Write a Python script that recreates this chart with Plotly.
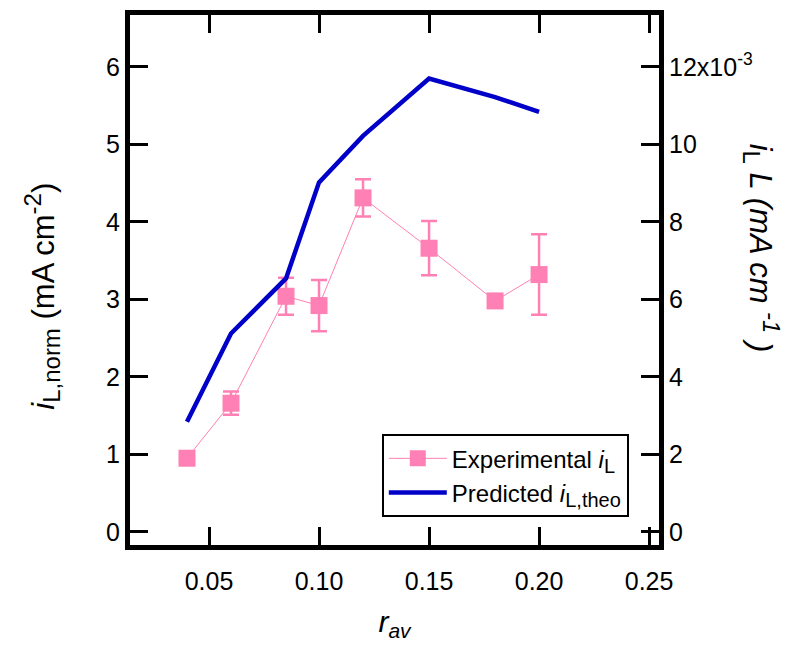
import plotly.graph_objects as go

r_av = [0.04, 0.06, 0.085, 0.10, 0.12, 0.15, 0.18, 0.20]
i_norm_exp = [0.95, 1.66, 3.04, 2.92, 4.31, 3.66, 2.98, 3.32]
i_norm_err = [0.05, 0.15, 0.24, 0.33, 0.24, 0.35, 0.06, 0.52]
iL_theo = [0.00284, 0.00512, 0.00654, 0.00902, 0.01022, 0.01170, 0.01122, 0.01084]

x_ticks = [0.05, 0.10, 0.15, 0.20, 0.25]
x_ticktext = ["0.05", "0.10", "0.15", "0.20", "0.25"]
y_ticks = [0, 1, 2, 3, 4, 5, 6]
y2_ticks = [0, 0.002, 0.004, 0.006, 0.008, 0.010, 0.012]
y2_ticktext = ["0", "2", "4", "6", "8", "10", "12x10<sup>-3</sup>"]

PINK = "#ff80b4"
BLUE = "#0000c8"
FONT = "Liberation Sans, Arial, sans-serif"

fig = go.Figure()
fig.add_trace(go.Scatter(
    x=r_av, y=i_norm_exp, mode="lines+markers",
    name="Experimental <i>i</i><sub><span style='font-size:20px'>L</span></sub>",
    line=dict(color=PINK, width=1),
    marker=dict(symbol="square", size=17, color=PINK),
    error_y=dict(type="data", array=i_norm_err, color=PINK, thickness=2.5, width=8),
    yaxis="y",
))
fig.add_trace(go.Scatter(
    x=r_av, y=iL_theo, mode="lines",
    name="Predicted <i>i</i><sub><span style='font-size:20px'>L,theo</span></sub>",
    line=dict(color=BLUE, width=4.5),
    yaxis="y2",
))

axis_common = dict(
    showline=True, linecolor="black", linewidth=5,
    ticks="inside", ticklen=18, tickwidth=3, tickcolor="black",
    showgrid=False, zeroline=False,
    tickfont=dict(family=FONT, size=25, color="black"),
)

fig.update_layout(
    width=798, height=649,
    margin=dict(l=130, r=139, t=10, b=104),
    paper_bgcolor="white", plot_bgcolor="white",
    font=dict(family=FONT, color="black"),
    showlegend=True,
    legend=dict(
        x=0.476, y=0.209, xanchor="left", yanchor="top",
        bordercolor="black", borderwidth=2, bgcolor="white",
        font=dict(family=FONT, size=24, color="black"),
        tracegroupgap=0, itemwidth=58,
    ),
    xaxis=dict(
        range=[0.0141, 0.2545], tickvals=x_ticks, ticktext=x_ticktext,
        mirror="ticks", ticklabelstandoff=10,
        title=dict(text="<i>r</i><sub><i>av</i></sub>", font=dict(family=FONT, size=30), standoff=18),
        **axis_common,
    ),
    yaxis=dict(
        range=[-0.17, 6.67], tickvals=y_ticks,
        **axis_common,
    ),
    yaxis2=dict(
        range=[-0.00034, 0.01334], tickvals=y2_ticks, ticktext=y2_ticktext,
        overlaying="y", side="right",
        **axis_common,
    ),
    annotations=[
        dict(
            text="<i>i</i><sub><span style='font-size:24px'>L,norm</span></sub> (mA cm<sup><span style='font-size:24px'>-2</span></sup>)",
            xref="paper", yref="paper", x=-0.213, y=0.47,
            showarrow=False, textangle=-90,
            font=dict(family=FONT, size=31, color="black"),
        ),
        dict(
            text="<i>i</i><sub><span style='font-size:24px'>L</span></sub> <i>L (mA cm <sup><span style='font-size:24px'>-1</span></sup> )</i>",
            xref="paper", yref="paper", x=1.242, y=0.56,
            showarrow=False, textangle=90,
            font=dict(family=FONT, size=31, color="black"),
        ),
    ],
)

fig.write_html("out.html")
